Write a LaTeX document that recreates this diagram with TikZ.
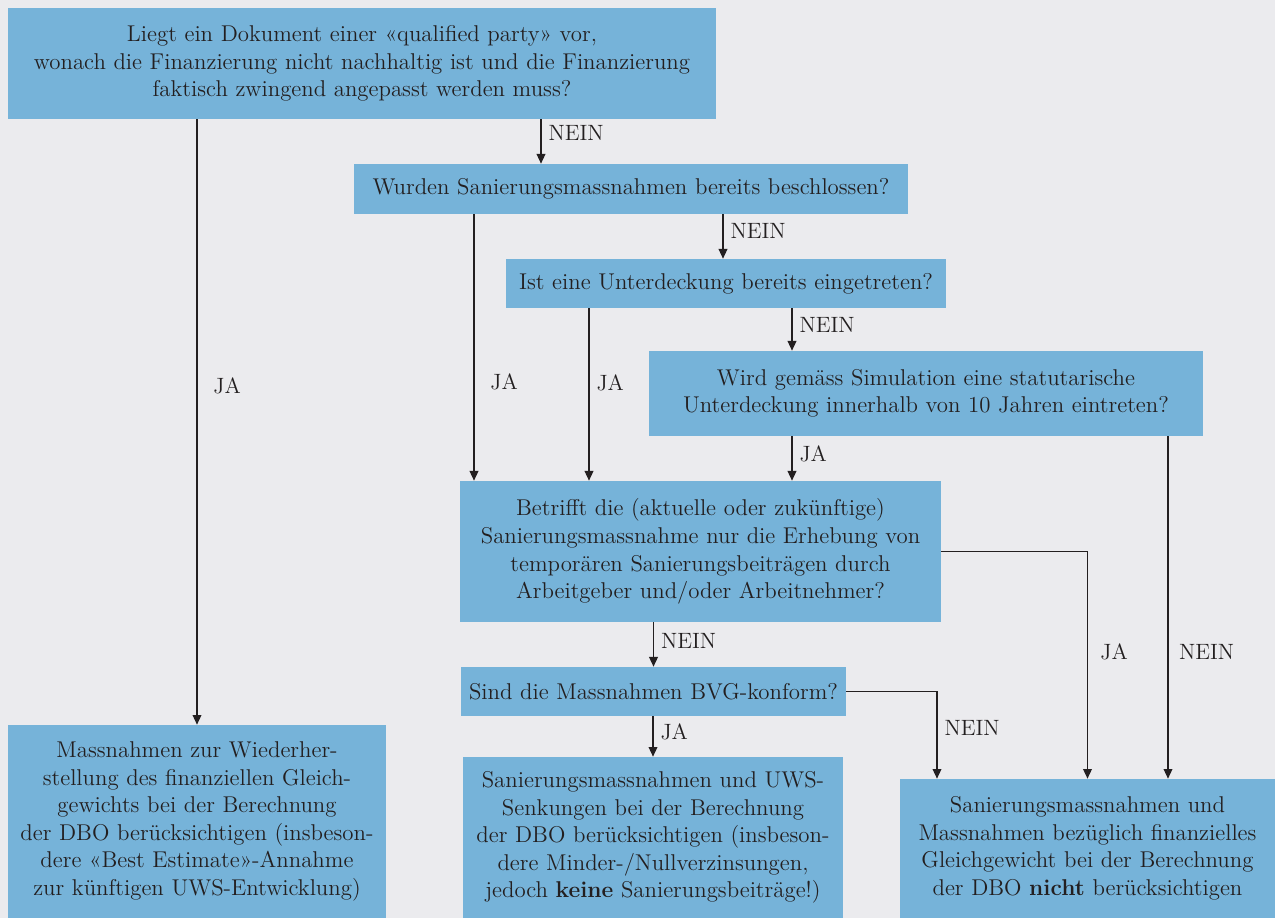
\documentclass[tikz,border=0pt]{standalone}
\usepackage{fontspec}
\usetikzlibrary{arrows.meta}
\definecolor{bgcol}{RGB}{235,235,238}
\definecolor{boxcol}{RGB}{118,179,217}
\definecolor{inkcol}{RGB}{35,31,32}
\tikzset{
  % question / result box
  qbox/.style={rectangle, fill=boxcol, text=inkcol, align=center, inner xsep=0pt, inner ysep=0pt,
               font=\fontsize{13}{15.7}\selectfont},
  % flow arrow
  flow/.style={-{Triangle[length=5.5pt,width=5pt]}, line width=0.65pt, draw=inkcol},
  % JA / NEIN label
  ans/.style={font=\fontsize{12.6}{14}\selectfont, text=inkcol, anchor=west, inner xsep=4pt},
}

\begin{document}
\begin{tikzpicture}[x=0.02cm, y=-0.02cm]

  % background
  \fill[bgcol] (0,0) rectangle (1275,918);
  \useasboundingbox (0,0) rectangle (1275,918);

  % ===== questions =====
  \node[qbox, text width=14.16cm, minimum height=2.22cm] (q1) at (362,63.5)
    {Liegt ein Dokument einer «qualified party» vor,\\
     wonach die Finanzierung nicht nachhaltig ist und die Finanzierung\\
     faktisch zwingend angepasst werden muss?};
  \node[qbox, text width=11.08cm, minimum height=1.0cm] (q2) at (631,189)
    {Wurden Sanierungsmassnahmen bereits beschlossen?};
  \node[qbox, text width=8.8cm, minimum height=0.98cm] (q3) at (726,283.5)
    {Ist eine Unterdeckung bereits eingetreten?};
  \node[qbox, text width=11.08cm, minimum height=1.7cm] (q4) at (926,393.5)
    {Wird gemäss Simulation eine statutarische\\
     Unterdeckung innerhalb von 10 Jahren eintreten?};
  \node[qbox, text width=9.62cm, minimum height=2.82cm] (q5) at (700.5,551.5)
    {Betrifft die (aktuelle oder zukünftige)\\
     Sanierungsmassnahme nur die Erhebung von\\
     temporären Sanierungsbeiträgen durch\\
     Arbeitgeber und/oder Arbeitnehmer?};
  \node[qbox, text width=7.7cm, minimum height=0.98cm] (q6) at (653.5,691.5)
    {Sind die Massnahmen BVG-konform?};

  % ===== results =====
  \node[qbox, text width=7.56cm, minimum height=3.86cm] (r1) at (197,821.5)
    {Massnahmen zur Wiederher-\\
     stellung des finanziellen Gleich-\\
     gewichts bei der Berechnung\\
     der DBO berücksichtigen (insbeson-\\
     dere «Best Estimate»-Annahme\\
     zur künftigen UWS-Entwicklung)};
  \node[qbox, text width=7.6cm, minimum height=3.22cm] (r2) at (653,837.5)
    {Sanierungsmassnahmen und UWS-\\
     Senkungen bei der Berechnung\\
     der DBO berücksichtigen (insbeson-\\
     dere Minder-/Nullverzinsungen,\\
     jedoch \textbf{keine} Sanierungsbeiträge!)};
  \node[qbox, text width=7.5cm, minimum height=2.78cm] (r3) at (1087.5,848.5)
    {Sanierungsmassnahmen und\\
     Massnahmen bezüglich finanzielles\\
     Gleichgewicht bei der Berechnung\\
     der DBO \textbf{nicht} berücksichtigen};

  % columns of the connectors
  \coordinate (c541) at (541,0);
  \coordinate (c474) at (474,0);
  \coordinate (c723) at (723,0);
  \coordinate (c589) at (589,0);
  \coordinate (c792) at (792,0);
  \coordinate (c1168) at (1168,0);
  \coordinate (c937) at (937,0);

  % ===== connectors =====
  \draw[flow] (q1.south -| r1.north) -- (r1.north)
    node[ans, pos=0.44, xshift=5pt] {JA};
  \draw[flow] (q1.south -| c541) -- (q2.north -| c541)
    node[ans, pos=0.31] {NEIN};
  \draw[flow] (q2.south -| c474) -- (q5.north -| c474)
    node[ans, pos=0.63, xshift=5pt] {JA};
  \draw[flow] (q2.south -| c723) -- (q3.north -| c723)
    node[ans, pos=0.38] {NEIN};
  \draw[flow] (q3.south -| c589) -- (q5.north -| c589)
    node[ans, pos=0.43] {JA};
  \draw[flow] (q3.south -| c792) -- (q4.north -| c792)
    node[ans, pos=0.40] {NEIN};
  \draw[flow] (q4.south -| c792) -- (q5.north -| c792)
    node[ans, pos=0.40] {JA};
  \draw[flow] (q4.south -| c1168) -- (r3.north -| c1168)
    node[ans, pos=0.63, xshift=2pt] {NEIN};
  \draw[flow] (q5.east) -| (r3.north)
    node[ans, pos=0.72, xshift=3pt] {JA};
  \draw[flow] (q5.south -| q6.north) -- (q6.north)
    node[ans, pos=0.42] {NEIN};
  \draw[flow] (q6.east) -| (r3.north -| c937)
    node[ans, pos=0.71] {NEIN};
  \draw[flow] (q6.south -| r2.north) -- (r2.north)
    node[ans, pos=0.39] {JA};

\end{tikzpicture}
\end{document}
